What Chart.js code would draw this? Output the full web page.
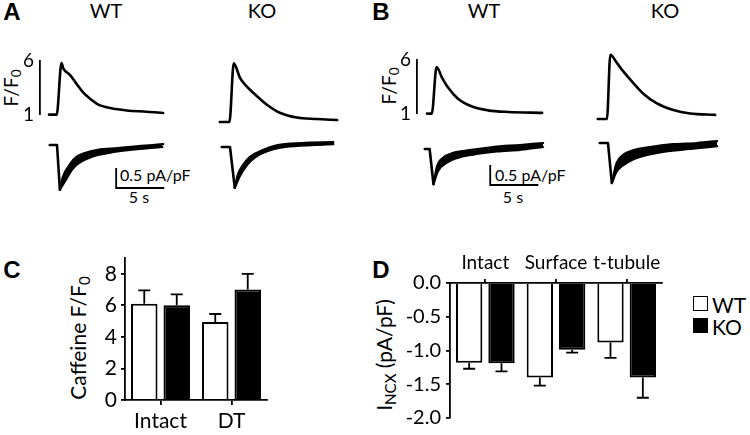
<!DOCTYPE html>
<html>
<head>
<meta charset="utf-8">
<script src="https://cdn.jsdelivr.net/npm/chart.js@4.4.0/dist/chart.umd.min.js"></script>
<style>
body { margin: 0; background: #fff; }
#fig { position: relative; width: 750px; height: 435px; font-family: Lato, "Open Sans", sans-serif; color: #000; overflow: hidden; }
#fig canvas { position: absolute; }
.t { position: absolute; white-space: nowrap; line-height: 1; transform: translate(-50%, -50%); }
.l { position: absolute; white-space: nowrap; line-height: 1; transform: translateY(-50%); }
.rot { transform: translate(-50%, -50%) rotate(-90deg); }
.pl { font: bold 24px "Liberation Sans", Arial, sans-serif; }
sub { font-size: 0.72em; vertical-align: -0.28em; line-height: 0; }
.box { position: absolute; width: 15px; height: 15px; box-sizing: border-box; border: 1.5px solid #000; }
</style>
</head>
<body>
<div id="fig">
  <div class="t pl" style="left:12px;top:12px">A</div>
  <div class="t pl" style="left:381px;top:12px">B</div>
  <div class="t pl" style="left:12px;top:270px">C</div>
  <div class="t pl" style="left:381px;top:270px">D</div>

  <div class="t" style="left:106px;top:10px;font-size:20px">WT</div>
  <div class="t" style="left:262px;top:10px;font-size:20px">KO</div>
  <div class="t" style="left:484px;top:10px;font-size:20px">WT</div>
  <div class="t" style="left:665px;top:10px;font-size:20px">KO</div>

  <div class="t rot" style="left:10px;top:88px;font-size:19px">F/F<sub>0</sub></div>
  <div class="t rot" style="left:388px;top:86px;font-size:19px">F/F<sub>0</sub></div>

  <div class="l" style="left:120px;top:175px;font-size:16px">0.5 pA/pF</div>
  <div class="t" style="left:139px;top:197px;font-size:16px">5 s</div>
  <div class="l" style="left:495px;top:175px;font-size:16px">0.5 pA/pF</div>
  <div class="t" style="left:513px;top:197px;font-size:16px">5 s</div>

  <div class="t rot" style="left:77px;top:338px;font-size:21px">Caffeine F/F<sub>0</sub></div>
  <div class="t rot" style="left:383px;top:355px;font-size:21px">I<sub>NCX</sub> (pA/pF)</div>

  <div class="box" style="left:693px;top:296px;background:#fff"></div>
  <div class="l" style="left:712px;top:304px;font-size:21px">WT</div>
  <div class="box" style="left:693px;top:318px;background:#000"></div>
  <div class="l" style="left:712px;top:326px;font-size:21px">KO</div>

  <canvas id="aWtCa"></canvas>
  <canvas id="aKoCa"></canvas>
  <canvas id="bWtCa"></canvas>
  <canvas id="bKoCa"></canvas>
  <canvas id="aWtI"></canvas>
  <canvas id="aKoI"></canvas>
  <canvas id="bWtI"></canvas>
  <canvas id="bKoI"></canvas>
  <canvas id="chartC" width="200" height="195" style="left:90px;top:240px"></canvas>
  <canvas id="chartD" width="280" height="190" style="left:400px;top:245px"></canvas>
</div>

<script>
// ---------- data: Ca transients (time s, F/F0) ----------
const aWtCaT = [0, 0.8, 1.3, 1.5, 2.2, 2.9, 3.6, 4.3, 5.1, 6.4, 8.1, 10.2, 11.9];
const aWtCaF = [1.0, 1.0, 5.75, 5.25, 4.65, 3.8, 3.0, 2.45, 1.95, 1.6, 1.38, 1.27, 1.15];
const aKoCaT = [0, 1.0, 1.45, 2.1, 2.7, 3.5, 4.9, 6.3, 8.0, 10.1, 12.2];
const aKoCaF = [1.0, 1.0, 5.25, 4.2, 3.65, 3.1, 2.25, 1.65, 1.32, 1.22, 1.14];
const bWtCaT = [0, 0.5, 1.0, 1.55, 2.2, 3.2, 4.7, 6.35, 8.45, 12.0];
const bWtCaF = [1.0, 1.0, 5.3, 4.35, 3.4, 2.4, 1.65, 1.3, 1.15, 1.07];
const bKoCaT = [0, 0.95, 1.3, 2.0, 2.65, 3.7, 4.7, 6.1, 7.85, 9.6, 12.2];
const bKoCaF = [1.0, 1.0, 5.65, 5.05, 4.45, 3.6, 2.85, 2.15, 1.65, 1.4, 1.3];

// ---------- data: NCX currents (time s, pA/pF), upper and lower edge of the noisy trace ----------
const aWtIT = [0, 0.75, 1.05, 1.35, 1.9, 2.6, 3.65, 5.0, 7.1, 9.2, 11.8];
const aWtI = [0, 0, -1.12, -0.8, -0.55, -0.33, -0.2, -0.12, -0.08, -0.03, 0.02];
const aWtLoT = [1.05, 1.55, 2.3, 2.9, 4.0, 5.0, 6.5, 8.1, 11.7];
const aWtLo = [-1.12, -0.92, -0.62, -0.47, -0.33, -0.25, -0.18, -0.13, -0.05];
const aKoIT = [0, 0.85, 1.35, 1.65, 2.2, 2.9, 4.2, 5.8, 8.3, 11.6];
const aKoI = [0, 0, -1.02, -0.7, -0.45, -0.25, -0.08, 0.05, 0.1, 0.12];
const aKoLoT = [1.35, 1.9, 2.6, 3.45, 4.8, 6.6, 9.7, 11.6];
const aKoLo = [-1.02, -0.72, -0.46, -0.26, -0.1, 0.0, 0.05, 0.07];
const bWtIT = [0, 0.5, 0.9, 1.25, 1.9, 2.9, 4.7, 7.1, 9.9, 12.3];
const bWtI = [0, 0, -0.88, -0.45, -0.22, -0.1, -0.03, 0.05, 0.1, 0.15];
const bWtLoT = [0.9, 1.35, 2.3, 3.3, 5.0, 7.5, 9.9, 12.3];
const bWtLo = [-0.88, -0.56, -0.34, -0.23, -0.14, -0.06, -0.02, 0.05];
const bKoIT = [0, 0.85, 1.25, 1.75, 2.4, 3.45, 5.2, 7.6, 10.1, 12.2];
const bKoI = [0, 0, -1.0, -0.5, -0.3, -0.18, -0.1, -0.03, 0, 0.05];
const bKoLoT = [1.25, 1.75, 2.4, 3.45, 4.9, 6.55, 9.4, 12.2];
const bKoLo = [-1.0, -0.72, -0.56, -0.41, -0.3, -0.22, -0.15, -0.08];

// scale bars
const caTicks = [1, 6];
const BAR_T = 5;     // s
const BAR_I = 0.5;   // pA/pF

// ---------- data: panel C ----------
const catC = ['Intact', 'DT'];
const wtC = [6.1, 4.95];
const wtCErr = [0.85, 0.5];
const koC = [6.0, 7.0];
const koCErr = [0.7, 1.0];
const ticksC = [0, 2, 4, 6, 8];

// ---------- data: panel D ----------
const catD = ['Intact', 'Surface', 't-tubule'];
const wtD = [-1.18, -1.40, -0.88];
const wtDErr = [0.09, 0.12, 0.23];
const koD = [-1.19, -0.99, -1.40];
const koDErr = [0.12, 0.04, 0.30];
const ticksD = [0, -0.5, -1, -1.5, -2];

Chart.defaults.font.family = 'Lato, "Open Sans", sans-serif';
Chart.defaults.color = '#000';

const PX_S = 9.6, PX_F = 13.8, PX_I = 40;

const pts = (xs, ys) => xs.map((x, i) => ({x: x, y: ys[i]}));

function trace(xs, ys, extra) {
  return Object.assign({
    data: pts(xs, ys), borderColor: '#000', backgroundColor: '#000', borderWidth: 2.6,
    pointRadius: 0, fill: false, clip: false, cubicInterpolationMode: 'monotone',
    borderJoinStyle: 'round', borderCapStyle: 'round'
  }, extra || {});
}

// noisy current: drop part, then a band between upper and lower edge
function current(ts, is, loT, lo) {
  const k = is.indexOf(Math.min.apply(null, is));
  return [
    trace(ts.slice(0, k + 1), is.slice(0, k + 1), {cubicInterpolationMode: 'default', tension: 0}),
    trace(ts.slice(k), is.slice(k), {fill: '+1', borderWidth: 2.2}),
    trace(loT, lo, {borderWidth: 2.2})
  ];
}

function scaleBar(t, i) {
  return {
    data: [{x: t, y: i + BAR_I}, {x: t, y: i}, {x: t + BAR_T, y: i}],
    borderColor: '#000', borderWidth: 1.8, pointRadius: 0, fill: false, clip: false,
    tension: 0, borderJoinStyle: 'miter', borderCapStyle: 'butt'
  };
}

// p.x0/p.y0 = pixel of t = 0 and value p.ref
function makeTrace(id, p) {
  const padX = 4, padY = 10;
  const axisW = p.axis ? 34 : 0;
  const areaL = p.x0 + p.xMin * PX_S;
  const areaT = p.y0 - (p.yMax - p.ref) * p.pxY;
  const cv = document.getElementById(id);
  cv.width = Math.round((p.xMax - p.xMin) * PX_S + axisW + 2 * padX);
  cv.height = Math.round((p.yMax - p.yMin) * p.pxY + 2 * padY);
  cv.style.left = (areaL - axisW - padX) + 'px';
  cv.style.top = (areaT - padY) + 'px';
  return new Chart(cv, {
    type: 'line',
    data: {datasets: p.datasets},
    options: {
      responsive: false, animation: false,
      layout: {padding: {left: padX, right: padX, top: padY, bottom: padY}},
      plugins: {legend: {display: false}, tooltip: {enabled: false}},
      scales: {
        x: {type: 'linear', min: p.xMin, max: p.xMax, display: false},
        y: {
          min: p.yMin, max: p.yMax, display: !!p.axis,
          afterBuildTicks: s => { if (p.axis) s.ticks = caTicks.map(v => ({value: v})); },
          afterFit: s => { s.width = axisW; },
          grid: {display: true, drawOnChartArea: false, drawTicks: false},
          border: {display: true, color: '#000', width: 1.8},
          ticks: {font: {size: 19}, padding: 6}
        }
      }
    }
  });
}

// panel A
makeTrace('aWtCa', {x0: 49, y0: 122, ref: 1, xMin: -0.94, xMax: 12.3, yMin: 1, yMax: 6, pxY: PX_F, axis: true,
  datasets: [trace(aWtCaT, aWtCaF)]});
makeTrace('aKoCa', {x0: 220, y0: 122, ref: 1, xMin: -0.5, xMax: 12.6, yMin: 1, yMax: 6, pxY: PX_F,
  datasets: [trace(aKoCaT, aKoCaF)]});
makeTrace('aWtI', {x0: 50, y0: 145, ref: 0, xMin: -0.5, xMax: 12.5, yMin: -1.35, yMax: 0.3, pxY: PX_I,
  datasets: current(aWtIT, aWtI, aWtLoT, aWtLo).concat([scaleBar(6.9, -1.075)])});
makeTrace('aKoI', {x0: 222, y0: 147, ref: 0, xMin: -0.5, xMax: 12.5, yMin: -1.35, yMax: 0.3, pxY: PX_I,
  datasets: current(aKoIT, aKoI, aKoLoT, aKoLo)});

// panel B
makeTrace('bWtCa', {x0: 427, y0: 121, ref: 1, xMin: -1.04, xMax: 12.3, yMin: 1, yMax: 6, pxY: PX_F, axis: true,
  datasets: [trace(bWtCaT, bWtCaF)]});
makeTrace('bKoCa', {x0: 598, y0: 119, ref: 1, xMin: -0.5, xMax: 12.6, yMin: 1, yMax: 6, pxY: PX_F,
  datasets: [trace(bKoCaT, bKoCaF)]});
makeTrace('bWtI', {x0: 425, y0: 149, ref: 0, xMin: -0.5, xMax: 12.6, yMin: -1.35, yMax: 0.3, pxY: PX_I,
  datasets: current(bWtIT, bWtI, bWtLoT, bWtLo).concat([scaleBar(6.8, -0.9)])});
makeTrace('bKoI', {x0: 600, y0: 143, ref: 0, xMin: -0.5, xMax: 12.5, yMin: -1.35, yMax: 0.3, pxY: PX_I,
  datasets: current(bKoIT, bKoI, bKoLoT, bKoLo)});

// error bars (one-sided, away from zero)
const errorBars = {
  id: 'errorBars',
  afterDatasetsDraw(chart) {
    const ctx = chart.ctx, ys = chart.scales.y;
    ctx.save();
    ctx.strokeStyle = '#000';
    ctx.lineWidth = 1.8;
    chart.data.datasets.forEach((ds, i) => {
      chart.getDatasetMeta(i).data.forEach((bar, j) => {
        const v = ds.data[j], e = ds.errors[j];
        const y0 = ys.getPixelForValue(v), y1 = ys.getPixelForValue(v + Math.sign(v) * e);
        ctx.beginPath();
        ctx.moveTo(bar.x, y0); ctx.lineTo(bar.x, y1);
        ctx.moveTo(bar.x - 6, y1); ctx.lineTo(bar.x + 6, y1);
        ctx.stroke();
      });
    });
    ctx.restore();
  }
};

function barSets(wt, wtErr, ko, koErr) {
  return [
    {label: 'WT', data: wt, errors: wtErr, backgroundColor: '#fff', borderColor: '#000', borderWidth: 2},
    {label: 'KO', data: ko, errors: koErr, backgroundColor: '#000', borderColor: '#000', borderWidth: 2}
  ];
}

const axisLine = {display: true, drawOnChartArea: false, offset: false, color: '#000', lineWidth: 1.8};

// panel C
new Chart(document.getElementById('chartC'), {
  type: 'bar',
  data: {labels: catC, datasets: barSets(wtC, wtCErr, koC, koCErr)},
  options: {
    responsive: false, animation: false,
    categoryPercentage: 0.915, barPercentage: 0.815,
    layout: {padding: {left: 0, right: 23, top: 18, bottom: 0}},
    plugins: {legend: {display: false}, tooltip: {enabled: false}},
    scales: {
      x: {
        grid: Object.assign({tickLength: 5}, axisLine),
        border: {color: '#000', width: 1.8},
        ticks: {font: {size: 21}, padding: 4, maxRotation: 0, autoSkip: false},
        afterFit: s => { s.height = 35; }
      },
      y: {
        min: 0, max: 9,
        afterBuildTicks: s => { s.ticks = ticksC.map(v => ({value: v})); },
        grid: Object.assign({tickLength: 4}, axisLine),
        border: {color: '#000', width: 1.8},
        ticks: {font: {size: 21}, padding: 4},
        afterFit: s => { s.width = 35; }
      }
    }
  },
  plugins: [errorBars]
});

// panel D
new Chart(document.getElementById('chartD'), {
  type: 'bar',
  data: {labels: catD, datasets: barSets(wtD, wtDErr, koD, koDErr)},
  options: {
    responsive: false, animation: false,
    categoryPercentage: 0.915, barPercentage: 0.815,
    layout: {padding: {left: 0, right: 18, top: 0, bottom: 10}},
    plugins: {legend: {display: false}, tooltip: {enabled: false}},
    scales: {
      x: {
        position: 'top',
        grid: Object.assign({tickLength: 4}, axisLine),
        border: {color: '#000', width: 1.8},
        ticks: {font: {size: 19}, padding: 5, maxRotation: 0, minRotation: 0, autoSkip: false},
        afterFit: s => { s.height = 38; }
      },
      y: {
        min: -2, max: 0,
        afterBuildTicks: s => { s.ticks = ticksD.map(v => ({value: v})); },
        grid: Object.assign({tickLength: 4}, axisLine),
        border: {color: '#000', width: 1.8},
        ticks: {font: {size: 20}, padding: 5, callback: v => v.toFixed(1)},
        afterFit: s => { s.width = 50; }
      }
    }
  },
  plugins: [errorBars]
});
</script>
</body>
</html>
